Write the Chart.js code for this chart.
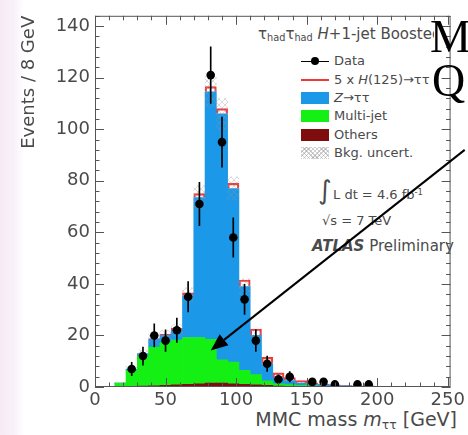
<!DOCTYPE html>
<html>
<head>
<meta charset="utf-8">
<script src="https://cdn.jsdelivr.net/npm/chart.js"></script>
<style>
  html, body { margin: 0; padding: 0; }
  body {
    width: 468px; height: 435px; overflow: hidden; position: relative;
    background: linear-gradient(to right, #f5eaf5 0px, #f9f1f9 14px, #ffffff 24px);
    font-family: 'DejaVu Sans', sans-serif; color: #4a4a4a;
  }
  #myChart { position: absolute; left: 0; top: 0; z-index: 1; }
  .t { position: absolute; white-space: nowrap; z-index: 0; }
  .leg { font-size: 13px; line-height: 15px; left: 334px; }
  .sym { position: absolute; z-index: 0; }
  .box { left: 301px; width: 28px; height: 12px; }
  .big { position: absolute; z-index: 2; font-family: 'Liberation Serif', serif;
         font-size: 46px; line-height: 46px; color: #000; }
  sub { font-size: 65%; vertical-align: -0.25em; }
  sup { font-size: 65%; vertical-align: 0.5em; }
</style>
</head>
<body>
<canvas id="myChart" width="468" height="435"></canvas>

<!-- header + legend -->
<div class="t" style="left:258px; top:26px; font-size:15px; line-height:16px; width:176px; overflow:hidden;">&tau;<sub>had</sub>&tau;<sub>had</sub> <i>H</i>+1-jet Boosted</div>

<div class="sym" style="left:301px; top:61px; width:28px; height:1px; background:#000;"></div>
<div class="sym" style="left:311px; top:57px; width:8px; height:8px; border-radius:50%; background:#000;"></div>
<div class="t leg" style="top:53px;">Data</div>

<div class="sym" style="left:301px; top:79px; width:28px; height:2px; background:#f03a3a;"></div>
<div class="t leg" style="top:72px;">5 x <i>H</i>(125)&rarr;&tau;&tau;</div>

<div class="sym box" style="top:92px; background:#1b98e8;"></div>
<div class="t leg" style="top:90px;"><i>Z</i>&rarr;&tau;&tau;</div>

<div class="sym box" style="top:110px; background:#14f014;"></div>
<div class="t leg" style="top:108px;">Multi-jet</div>

<div class="sym box" style="top:129px; background:#7f0d0d;"></div>
<div class="t leg" style="top:127px;">Others</div>

<div class="sym box" style="top:147px; background:
  repeating-linear-gradient(45deg, rgba(150,150,150,0.45) 0 1px, transparent 1px 3px),
  repeating-linear-gradient(-45deg, rgba(150,150,150,0.45) 0 1px, transparent 1px 3px);"></div>
<div class="t leg" style="top:145px;">Bkg. uncert.</div>

<div class="t" style="left:318px; top:176px; font-size:26px; line-height:28px;">&int;</div>
<div class="t" style="left:333px; top:185px; font-size:13px; line-height:15px;">L dt = 4.6 fb<sup>-1</sup></div>
<div class="t" style="left:322px; top:213px; font-size:13px; line-height:15px;">&radic;s = 7 TeV</div>
<div class="t" style="left:312px; top:238px; font-size:15px; line-height:17px;"><b><i>ATLAS</i></b> Preliminary</div>

<!-- x axis title -->
<div class="t" style="right:11px; top:408px; font-size:19px; line-height:22px;">MMC mass <i>m</i><sub>&tau;&tau;</sub> [GeV]</div>

<!-- slide text cut at the edge -->
<div class="big" style="left:430px; top:14px;">M</div>
<div class="big" style="left:432px; top:58px;">Q</div>

<script>
// bin centres of the 8 GeV bins
const binCenters = [18, 26, 34, 42, 50, 58, 66, 74, 82, 90, 98, 106, 114, 122, 130, 138, 146, 154, 162, 170, 178, 186, 194, 202];
const others   = [0.2, 0.3, 0.4, 0.5, 0.6, 0.8, 1.0, 1.2, 1.5, 1.5, 1.2, 1.0, 0.8, 0.6, 0.4, 0.3, 0.2, 0.2, 0.1, 0.1, 0.1, 0.1, 0.1, 0.1];
const multijet = [1.3, 6.2, 11.6, 15.0, 16.6, 17.4, 18.2, 18.0, 17.0, 9.0, 8.5, 5.5, 4.0, 1.8, 0.8, 0.6, 0.4, 0.3, 0.2, 0.2, 0.1, 0.1, 0.1, 0];
const ztautau  = [0, 0.5, 1.0, 3.0, 2.8, 3.8, 16.3, 54.3, 96.0, 95.5, 67.3, 32.5, 15.2, 6.6, 2.3, 1.6, 0.9, 0.5, 0.5, 0.3, 0.3, 0.2, 0.2, 0.1];
const signal5x = [0, 0, 0, 0.3, 0.5, 0.8, 1.0, 1.5, 2.0, 2.0, 2.0, 2.5, 2.5, 2.5, 2.0, 1.2, 1.0, 0.6, 0.3, 0.2, 0.1, 0, 0, 0];
const bkgUnc   = [0.3, 1.0, 1.5, 2.0, 2.0, 2.2, 3.0, 4.5, 6.0, 6.0, 4.5, 3.0, 2.0, 1.2, 0.8, 0.6, 0.4, 0.3, 0.2, 0.2, 0.1, 0.1, 0.1, 0.1];
const dataCounts = [null, 7, 12, 20, 18, 22, 35, 71, 121, 95, 58, 34, 18, 9, 3, 4, null, 2, 2, 1, null, 1, 1, null];
const dataErr    = [null, 2.6, 3.5, 4.5, 4.2, 4.7, 5.9, 8.4, 11, 9.7, 7.6, 5.8, 4.2, 3, 1.7, 2, null, 1.4, 1.4, 1, null, 1, 1, null];

// axis tick labels
const xTickValues = [0, 50, 100, 150, 200, 250];
const yTickValues = [0, 20, 40, 60, 80, 100, 120, 140];

// arrow drawn over the plot, in data units
const arrowTail = {x: 262, y: 92};
const arrowTip  = {x: 82, y: 14.2};

const TXT = '#4a4a4a';
const FONT = 'DejaVu Sans';

function toXY(arr) {
    return binCenters.map((x, i) => ({x: x, y: arr[i]}));
}

function hatchPattern() {
    const c = document.createElement('canvas');
    c.width = 6; c.height = 6;
    const g = c.getContext('2d');
    g.strokeStyle = 'rgba(150,150,150,0.35)';
    g.lineWidth = 1;
    g.beginPath();
    g.moveTo(0, 6); g.lineTo(6, 0);
    g.moveTo(0, 0); g.lineTo(6, 6);
    g.stroke();
    return g.createPattern(c, 'repeat');
}

const bkgTotal = binCenters.map((_, i) => others[i] + multijet[i] + ztautau[i]);

// frame with ROOT style inner ticks, plus the arrow
const framePlugin = {
    id: 'frame',
    afterDatasetsDraw(chart) {
        const {ctx, chartArea: a, scales: {x, y}} = chart;
        ctx.save();
        ctx.strokeStyle = '#555';
        ctx.lineWidth = 1;
        ctx.strokeRect(a.left + 0.5, a.top + 0.5, a.right - a.left - 1, a.bottom - a.top - 1);
        ctx.beginPath();
        for (let v = 0; v <= x.max; v += 10) {
            const px = Math.round(x.getPixelForValue(v)) + 0.5;
            const len = v % 50 === 0 ? 9 : 4.5;
            ctx.moveTo(px, a.bottom); ctx.lineTo(px, a.bottom - len);
            ctx.moveTo(px, a.top); ctx.lineTo(px, a.top + len);
        }
        for (let v = 0; v <= y.max; v += 4) {
            const py = Math.round(y.getPixelForValue(v)) + 0.5;
            const len = v % 20 === 0 ? 9 : 4.5;
            ctx.moveTo(a.left, py); ctx.lineTo(a.left + len, py);
            ctx.moveTo(a.right, py); ctx.lineTo(a.right - len, py);
        }
        ctx.stroke();

        // arrow
        const x0 = x.getPixelForValue(arrowTail.x), y0 = y.getPixelForValue(arrowTail.y);
        const x1 = x.getPixelForValue(arrowTip.x), y1 = y.getPixelForValue(arrowTip.y);
        const ang = Math.atan2(y1 - y0, x1 - x0);
        const headLen = 17, headW = 7;
        const bx = x1 - headLen * Math.cos(ang), by = y1 - headLen * Math.sin(ang);
        ctx.strokeStyle = '#000';
        ctx.fillStyle = '#000';
        ctx.lineWidth = 2;
        ctx.beginPath();
        ctx.moveTo(x0, y0); ctx.lineTo(bx, by);
        ctx.stroke();
        ctx.beginPath();
        ctx.moveTo(x1, y1);
        ctx.lineTo(bx + headW * Math.sin(ang), by - headW * Math.cos(ang));
        ctx.lineTo(bx - headW * Math.sin(ang), by + headW * Math.cos(ang));
        ctx.closePath();
        ctx.fill();
        ctx.restore();
    }
};

const barBase = {type: 'bar', barPercentage: 1, categoryPercentage: 1, borderWidth: 0};

new Chart('myChart', {
    data: {
        datasets: [
            {
                type: 'line', label: 'Data', data: toXY(dataCounts), showLine: false,
                pointRadius: 4.3, pointBackgroundColor: '#000', pointBorderWidth: 0,
                order: -2, stack: 'data'
            },
            {
                type: 'bar', label: 'err', grouped: false, barThickness: 1,
                data: binCenters.map((x, i) => ({x: x, y: dataCounts[i] == null ? null : [dataCounts[i] - dataErr[i], dataCounts[i] + dataErr[i]]})),
                backgroundColor: '#000', order: -1, stack: 'err'
            },
            Object.assign({}, barBase, {
                label: 'Bkg. uncert.', grouped: false,
                data: binCenters.map((x, i) => ({x: x, y: [bkgTotal[i] - bkgUnc[i], bkgTotal[i] + bkgUnc[i]]})),
                backgroundColor: hatchPattern(), order: 0, stack: 'unc'
            }),
            Object.assign({}, barBase, {label: 'Others', data: toXY(others), backgroundColor: '#7f0d0d', order: 1, stack: 'bkg'}),
            Object.assign({}, barBase, {label: 'Multi-jet', data: toXY(multijet), backgroundColor: '#14f014', order: 2, stack: 'bkg'}),
            Object.assign({}, barBase, {label: 'Z->tautau', data: toXY(ztautau), backgroundColor: '#1b98e8', order: 3, stack: 'bkg'}),
            Object.assign({}, barBase, {
                label: '5 x H(125)', data: toXY(signal5x), backgroundColor: 'rgba(0,0,0,0)',
                borderColor: '#f03a3a', borderWidth: 1.5, borderSkipped: 'start', order: 4, stack: 'bkg'
            })
        ]
    },
    options: {
        responsive: false,
        devicePixelRatio: 1,
        animation: false,
        layout: {padding: {top: 10, right: 9, left: 0, bottom: 0}},
        plugins: {legend: {display: false}, tooltip: {enabled: false}},
        scales: {
            x: {
                type: 'linear', min: 0, max: 252, offset: false,
                grid: {display: false, drawTicks: false},
                border: {display: false},
                ticks: {padding: 3, color: TXT, font: {family: FONT, size: 18}, maxRotation: 0, autoSkip: false},
                afterBuildTicks: (s) => { s.ticks = xTickValues.map(v => ({value: v})); },
                afterFit: (s) => { s.height = 48; }
            },
            y: {
                type: 'linear', min: 0, max: 144, stacked: true,
                grid: {display: false, drawTicks: false},
                border: {display: false},
                ticks: {padding: 5, color: TXT, font: {family: FONT, size: 18}},
                afterBuildTicks: (s) => { s.ticks = yTickValues.map(v => ({value: v})); },
                title: {display: true, text: 'Events / 8 GeV', align: 'end', color: TXT,
                        font: {family: FONT, size: 18}, padding: {top: 19, bottom: 0}},
                afterFit: (s) => { s.width = 95; }
            }
        }
    },
    plugins: [framePlugin]
});
</script>
</body>
</html>
